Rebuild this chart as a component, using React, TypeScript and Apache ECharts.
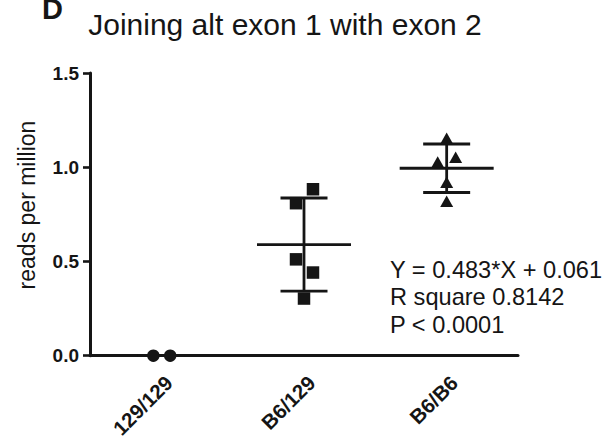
import React, { useEffect, useRef } from "react";
import * as echarts from "echarts";

// Genotype groups and per-animal values (reads per million)
const groups = ["129/129", "B6/129", "B6/B6"];
const values129 = [0, 0];
const valuesHet = [0.883, 0.809, 0.511, 0.441, 0.303];
const valuesB6 = [1.154, 1.053, 1.027, 0.92, 0.819];

// Horizontal scatter offsets (in category widths) so overlapping points stay visible
const jitter129 = [-0.056, 0.062];
const jitterHet = [0.063, -0.056, -0.056, 0.063, 0];
const jitterB6 = [0, 0.063, -0.063, 0, 0];

const yTicks = [0, 0.5, 1.0, 1.5];
const statLines = ["Y = 0.483*X + 0.061", "R square 0.8142", "P < 0.0001"];

const FONT = "'Liberation Sans', Arial, Helvetica, sans-serif";
const INK = "#151515";

function mean(a: number[]) {
  return a.reduce((s, v) => s + v, 0) / a.length;
}
function sd(a: number[]) {
  if (a.length < 2) return 0;
  const m = mean(a);
  return Math.sqrt(a.reduce((s, v) => s + (v - m) * (v - m), 0) / (a.length - 1));
}

const allGroups = [values129, valuesHet, valuesB6];
const allJitter = [jitter129, jitterHet, jitterB6];
const symbols = ["circle", "rect", "triangle"];
const symbolSizes: (number | number[])[] = [12.5, 12.5, [13, 11.5]];

export default function App() {
  const ref = useRef<HTMLDivElement>(null);

  useEffect(() => {
    if (!ref.current) return;
    const chart = echarts.init(ref.current, undefined, { renderer: "svg" });

    const scatterSeries = allGroups.map((vals, gi) => ({
      type: "scatter",
      name: groups[gi],
      xAxisIndex: 1,
      yAxisIndex: 0,
      symbol: symbols[gi],
      symbolSize: symbolSizes[gi],
      itemStyle: { color: INK, opacity: 1 },
      z: 5,
      data: vals.map((v, i) => [gi + 0.5 + allJitter[gi][i], v]),
    }));

    const summary = allGroups.map((vals, gi) => [gi + 0.5, mean(vals), sd(vals)]);

    // Mean line with SD whiskers for each group
    const meanSdSeries = {
      type: "custom",
      xAxisIndex: 1,
      yAxisIndex: 0,
      z: 4,
      data: summary,
      renderItem: (_params: any, api: any) => {
        const x = api.value(0);
        const m = api.value(1);
        const s = api.value(2);
        const c = api.coord([x, m]);
        const hi = api.coord([x, m + s]);
        const lo = api.coord([x, m - s]);
        const style = { stroke: INK, lineWidth: 2.8 };
        const meanHalf = 47;
        const capHalf = 23.5;
        return {
          type: "group",
          children: [
            { type: "line", shape: { x1: c[0] - meanHalf, y1: c[1], x2: c[0] + meanHalf, y2: c[1] }, style },
            { type: "line", shape: { x1: c[0], y1: hi[1], x2: c[0], y2: lo[1] }, style },
            { type: "line", shape: { x1: c[0] - capHalf, y1: hi[1], x2: c[0] + capHalf, y2: hi[1] }, style },
            { type: "line", shape: { x1: c[0] - capHalf, y1: lo[1], x2: c[0] + capHalf, y2: lo[1] }, style },
          ],
        };
      },
    };

    chart.setOption({
      animation: false,
      backgroundColor: "#ffffff",
      grid: { left: 90, right: 89, top: 73, bottom: 85, containLabel: false },
      xAxis: [
        {
          type: "category",
          data: groups,
          boundaryGap: true,
          axisLine: { lineStyle: { color: INK, width: 3 } },
          axisTick: { alignWithLabel: true, length: 7, lineStyle: { color: INK, width: 2.6 } },
          axisLabel: {
            rotate: 45,
            margin: 16,
            verticalAlign: "top",
            color: INK,
            fontFamily: FONT,
            fontWeight: "bold",
            fontSize: 20.5,
          },
          splitLine: { show: false },
        },
        {
          type: "value",
          min: 0,
          max: 3,
          show: false,
        },
      ],
      yAxis: {
        type: "value",
        min: 0,
        max: 1.5,
        interval: 0.5,
        axisLine: { show: true, lineStyle: { color: INK, width: 3 } },
        axisTick: { show: true, length: 7, lineStyle: { color: INK, width: 2.6 } },
        axisLabel: {
          margin: 11,
          color: INK,
          fontFamily: FONT,
          fontWeight: "bold",
          fontSize: 19,
          formatter: (v: number) => (yTicks.includes(v) ? v.toFixed(1) : ""),
        },
        splitLine: { show: false },
      },
      graphic: [
        {
          type: "text",
          left: 42,
          top: -6,
          style: { text: "D", fontFamily: FONT, fontWeight: "bold", fontSize: 29, fill: INK },
        },
        {
          type: "text",
          x: 285,
          y: 24,
          style: {
            text: "Joining alt exon 1 with exon 2",
            fontFamily: FONT,
            fontSize: 30,
            fill: INK,
            align: "center",
            verticalAlign: "middle",
          },
        },
        {
          type: "text",
          x: 27,
          y: 205,
          rotation: Math.PI / 2,
          style: {
            text: "reads per million",
            fontFamily: FONT,
            fontSize: 23,
            fill: INK,
            align: "center",
            verticalAlign: "middle",
          },
        },
        {
          type: "text",
          x: 390,
          y: 256,
          style: {
            text: statLines.join("\n"),
            fontFamily: FONT,
            fontSize: 23.6,
            lineHeight: 27.5,
            fill: INK,
            align: "left",
            verticalAlign: "top",
          },
        },
      ],
      series: [meanSdSeries, ...scatterSeries],
    });

    return () => chart.dispose();
  }, []);

  return (
    <div
      ref={ref}
      style={{ position: "fixed", left: 0, top: 0, width: 607, height: 441, background: "#fff" }}
    />
  );
}
